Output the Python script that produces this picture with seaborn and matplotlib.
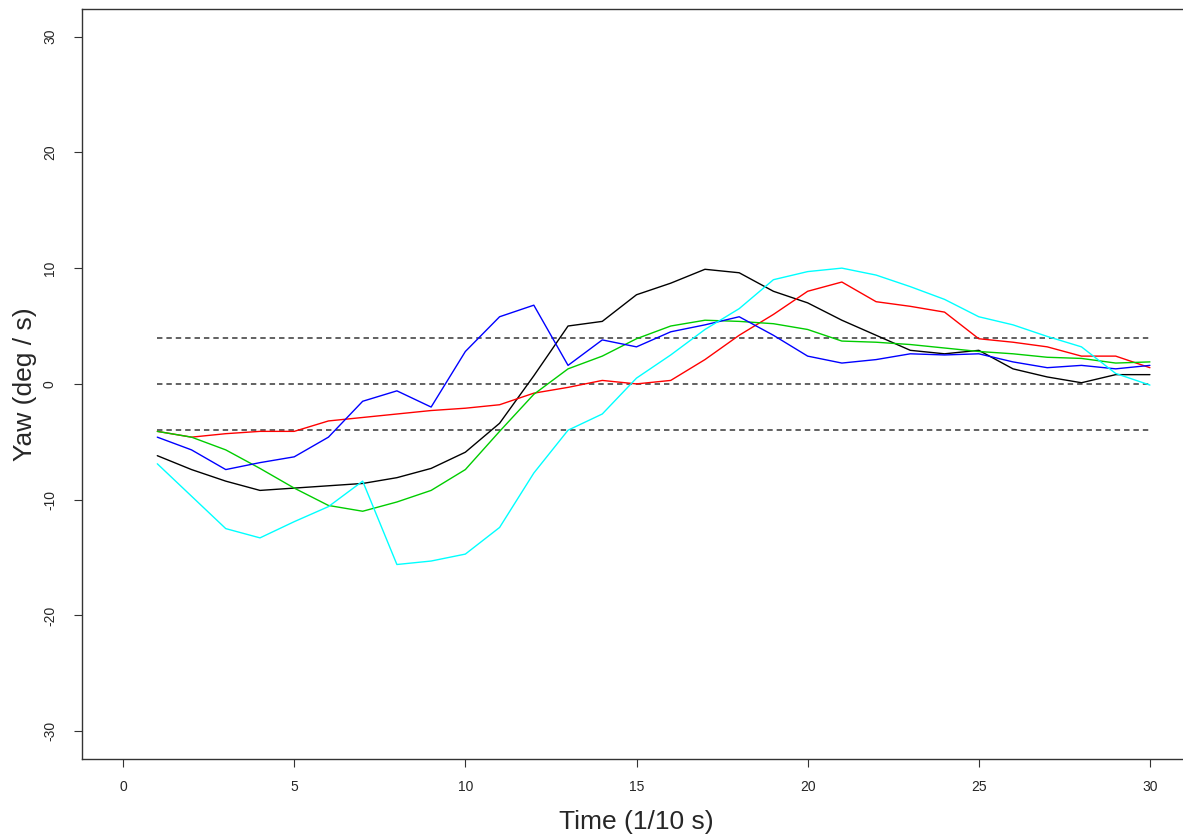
import pandas as pd
import numpy as np
import matplotlib
matplotlib.use("Agg")
import matplotlib.pyplot as plt
import seaborn as sns

# time steps (1/10 s)
time = list(range(1, 31))

# yaw rate per trial (deg / s)
yaw_black = [-6.2, -7.4, -8.4, -9.2, -9.0, -8.8, -8.6, -8.1, -7.3, -5.9,
             -3.4, 0.7, 5.0, 5.4, 7.7, 8.7, 9.9, 9.6, 8.0, 7.0,
             5.5, 4.2, 2.9, 2.6, 2.9, 1.3, 0.6, 0.1, 0.8, 0.8]
yaw_red = [-4.1, -4.6, -4.3, -4.1, -4.1, -3.2, -2.9, -2.6, -2.3, -2.1,
           -1.8, -0.8, -0.3, 0.3, 0.0, 0.3, 2.1, 4.2, 6.0, 8.0,
           8.8, 7.1, 6.7, 6.2, 3.9, 3.6, 3.2, 2.4, 2.4, 1.4]
yaw_green = [-4.1, -4.6, -5.7, -7.3, -9.0, -10.5, -11.0, -10.2, -9.2, -7.4,
             -4.1, -0.9, 1.3, 2.4, 3.9, 5.0, 5.5, 5.4, 5.2, 4.7,
             3.7, 3.6, 3.4, 3.1, 2.8, 2.6, 2.3, 2.2, 1.8, 1.9]
yaw_blue = [-4.6, -5.7, -7.4, -6.8, -6.3, -4.6, -1.5, -0.6, -2.0, 2.8,
            5.8, 6.8, 1.6, 3.8, 3.2, 4.5, 5.1, 5.8, 4.2, 2.4,
            1.8, 2.1, 2.6, 2.5, 2.6, 1.9, 1.4, 1.6, 1.3, 1.6]
yaw_cyan = [-6.9, -9.7, -12.5, -13.3, -11.9, -10.6, -8.4, -15.6, -15.3, -14.7,
            -12.4, -7.7, -4.0, -2.6, 0.5, 2.5, 4.7, 6.5, 9.0, 9.7,
            10.0, 9.4, 8.4, 7.3, 5.8, 5.1, 4.1, 3.2, 0.9, -0.1]

series_names = ["black", "red", "green", "blue", "cyan"]
series_colors = ["#000000", "#FF0000", "#00CD00", "#0000FF", "#00FFFF"]
thresholds = [-4, 0, 4]
x_ticks = [0, 5, 10, 15, 20, 25, 30]
y_ticks = [-30, -20, -10, 0, 10, 20, 30]

df = pd.DataFrame({
    "Time": time * 5,
    "Yaw": yaw_black + yaw_red + yaw_green + yaw_blue + yaw_cyan,
    "Trial": np.repeat(series_names, len(time)),
})

sns.set_style("white")
plt.rcParams["font.family"] = ["Liberation Sans", "DejaVu Sans"]

fig = plt.figure(figsize=(11.83, 8.36), dpi=100)
ax = fig.add_axes([82 / 1183, 77 / 836, 1109 / 1183, 750.2 / 836])

# dashed reference lines
ax.hlines(thresholds, min(time), max(time), colors="#555555",
          linestyles=(0, (3, 2.2)), linewidth=1.3, zorder=1)

sns.lineplot(data=df, x="Time", y="Yaw", hue="Trial", hue_order=series_names,
             palette=series_colors, legend=False, linewidth=1.0, ax=ax, zorder=2)

ax.set_xlim(-1.2, 31.2)
ax.set_ylim(-32.4, 32.4)
ax.set_xticks(x_ticks)
ax.set_yticks(y_ticks)
ax.set_yticklabels([str(v) for v in y_ticks], rotation=90, va="center")
ax.tick_params(axis="both", direction="out", length=6, width=0.8,
               color="#333333", labelsize=10, left=True, bottom=True)
ax.tick_params(axis="x", pad=9)
ax.tick_params(axis="y", pad=12)

for side in ["left", "bottom", "top"]:
    ax.spines[side].set_color("#333333")
    ax.spines[side].set_linewidth(1.0)
ax.spines["right"].set_visible(False)

ax.set_xlabel("Time (1/10 s)", fontsize=19, labelpad=12)
ax.set_ylabel("Yaw (deg / s)", fontsize=19, labelpad=4)

fig.savefig("out.png", dpi=100)
